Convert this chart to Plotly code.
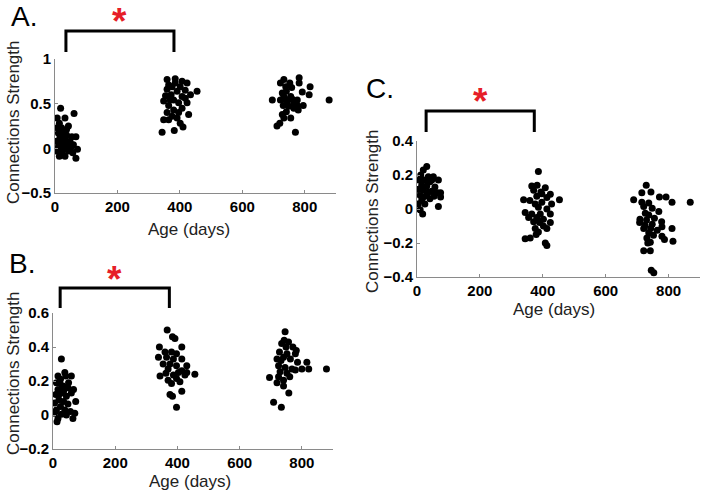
import plotly.graph_objects as go

W, H = 702, 493

# panel A: connection strength vs age
a_age = [18, 61, 7, 32, 14, 43, 21, 27, 11, 37, 54, 67, 16, 32, 5, 48, 21, 37, 59, 11,
         27, 72, 5, 43, 21, 57, 14, 67, 32, 7, 37, 25, 14, 50, 32, 18]
a_val = [0.45, 0.39, 0.34, 0.34, 0.28, 0.25, 0.23, 0.19, 0.17, 0.15, 0.13, 0.13, 0.12, 0.10,
         0.08, 0.08, 0.06, 0.04, 0.04, 0.02, 0.02, -0.01, -0.03, -0.03, -0.05, -0.05, -0.09,
         -0.11, -0.09, 0.23, 0.21, 0.15, 0.05, 0.0, -0.01, -0.015]
a_age += [343, 382, 359, 385, 407, 364, 375, 401, 359, 391, 417, 455, 372, 407, 434, 348,
          380, 396, 423, 364, 407, 380, 359, 396, 428, 375, 348, 364, 401, 410, 391, 417,
          385, 354, 423, 369]
a_val += [0.18, 0.20, 0.77, 0.78, 0.75, 0.71, 0.69, 0.69, 0.66, 0.64, 0.65, 0.64, 0.60, 0.58,
          0.60, 0.53, 0.54, 0.51, 0.51, 0.48, 0.45, 0.43, 0.40, 0.40, 0.38, 0.36, 0.32, 0.32,
          0.28, 0.24, 0.34, 0.56, 0.73, 0.59, 0.73, 0.54]
a_age += [878, 696, 711, 720, 770, 733, 782, 722, 752, 782, 739, 758, 817, 728, 741, 792,
          814, 733, 755, 776, 722, 744, 765, 731, 749, 776, 795, 765, 741, 728, 755, 779,
          733, 738, 760]
a_val += [0.54, 0.54, 0.25, 0.28, 0.18, 0.77, 0.79, 0.73, 0.73, 0.73, 0.69, 0.68, 0.69, 0.62,
          0.64, 0.63, 0.60, 0.58, 0.58, 0.54, 0.54, 0.53, 0.51, 0.48, 0.47, 0.48, 0.48, 0.45,
          0.41, 0.38, 0.34, 0.43, 0.34, 0.55, 0.55]

# panel B
b_age = [27, 16, 38, 24, 11, 41, 59, 32, 16, 48, 66, 27, 9, 43, 59, 19, 34, 73, 5, 48,
         24, 11, 38, 56, 70, 5, 27, 16, 64, 13, 43, 30, 21, 50, 19, 34]
b_val = [0.33, 0.23, 0.25, 0.21, 0.19, 0.23, 0.23, 0.17, 0.15, 0.16, 0.15, 0.13, 0.12, 0.11,
         0.13, 0.09, 0.08, 0.08, 0.07, 0.065, 0.05, 0.03, 0.03, 0.02, 0.01, 0.01, 0.005, -0.02,
         -0.02, -0.04, 0.0, 0.17, 0.19, 0.19, 0.12, 0.14]
b_age += [367, 384, 392, 342, 414, 360, 381, 397, 339, 365, 387, 414, 354, 376, 397, 430,
          370, 414, 344, 387, 424, 456, 397, 370, 408, 381, 414, 376, 384, 397, 363, 403, 430]
b_val += [0.50, 0.46, 0.45, 0.40, 0.40, 0.37, 0.37, 0.36, 0.34, 0.34, 0.33, 0.33, 0.30, 0.30,
          0.29, 0.29, 0.27, 0.26, 0.23, 0.235, 0.235, 0.24, 0.215, 0.205, 0.195, 0.185, 0.14,
          0.12, 0.11, 0.045, 0.245, 0.25, 0.25]
b_age += [879, 696, 709, 734, 758, 746, 743, 735, 757, 749, 771, 782, 728, 752, 779, 720,
          741, 763, 816, 786, 725, 746, 768, 800, 822, 730, 752, 779, 725, 741, 720, 741, 761, 733]
b_val += [0.27, 0.22, 0.075, 0.045, 0.13, 0.49, 0.44, 0.42, 0.43, 0.40, 0.40, 0.38, 0.37, 0.36,
          0.36, 0.33, 0.34, 0.33, 0.31, 0.31, 0.29, 0.28, 0.27, 0.27, 0.27, 0.255, 0.245, 0.265,
          0.225, 0.205, 0.19, 0.17, 0.225, 0.32]

# panel C
c_age = [31, 20, 12, 36, 52, 68, 7, 25, 41, 15, 31, 57, 4, 20, 47, 65, 75, 10, 31, 54,
         75, 41, 15, 4, 25, 68, 10, 18, 47, 36, 20]
c_val = [0.25, 0.23, 0.20, 0.19, 0.19, 0.17, 0.17, 0.17, 0.16, 0.14, 0.135, 0.13, 0.115, 0.11,
         0.105, 0.095, 0.095, 0.08, 0.08, 0.075, 0.07, 0.06, 0.05, 0.03, 0.03, 0.015, -0.005,
         -0.03, 0.17, 0.10, 0.07]
c_age += [386, 339, 453, 365, 382, 408, 371, 397, 424, 381, 413, 359, 397, 376, 428, 386,
          413, 344, 365, 392, 424, 355, 381, 402, 371, 390, 424, 402, 376, 413, 386, 360,
          344, 379, 408, 413, 394]
c_val += [0.22, 0.055, 0.055, 0.135, 0.14, 0.125, 0.11, 0.09, 0.087, 0.075, 0.068, 0.05, 0.04,
          0.03, 0.03, 0.01, 0.0, -0.02, -0.03, -0.03, -0.03, -0.05, -0.05, -0.06, -0.075, -0.08,
          -0.08, -0.10, -0.115, -0.115, -0.135, -0.17, -0.175, -0.15, -0.20, -0.215, 0.10]
c_age += [869, 689, 729, 715, 744, 715, 737, 771, 792, 811, 721, 748, 769, 709, 730, 755,
          778, 708, 725, 748, 779, 721, 743, 764, 811, 737, 752, 779, 731, 787, 742, 734,
          814, 721, 742, 745, 753, 726, 737]
c_val += [0.04, 0.055, 0.14, 0.095, 0.10, 0.04, 0.035, 0.07, 0.07, 0.04, 0.015, 0.005, -0.015,
          -0.06, -0.065, -0.055, -0.075, -0.08, -0.095, -0.09, -0.105, -0.115, -0.115, -0.125,
          -0.115, -0.14, -0.155, -0.16, -0.17, -0.18, -0.195, -0.20, -0.19, -0.245, -0.245,
          -0.36, -0.375, -0.025, -0.035]

# significance brackets (group 1 vs group 2 ages)
bracket_a = [35, 381]
bracket_b = [23, 374]
bracket_c = [29, 373]

x_ticks = [0, 200, 400, 600, 800]
a_ticks = [-0.5, 0, 0.5, 1]
b_ticks = [-0.2, 0, 0.2, 0.4, 0.6]
c_ticks = [-0.4, -0.2, 0, 0.2, 0.4]

FONT = "Liberation Sans, Arial, sans-serif"
GREY = "#8a8a8a"
RED = "rgb(230,30,40)"


def px_x(p):
    return p / W


def px_y(p):
    return 1 - p / H


fig = go.Figure()
for xs, ys, n in [(a_age, a_val, ""), (b_age, b_val, "2"), (c_age, c_val, "3")]:
    fig.add_trace(go.Scatter(x=xs, y=ys, mode="markers", xaxis="x" + n, yaxis="y" + n,
                             marker=dict(size=7, color="black"), showlegend=False))

axis_style = dict(showline=True, linecolor=GREY, linewidth=1, ticks="inside", ticklen=3,
                  tickcolor=GREY, showgrid=False, zeroline=False, automargin=False,
                  tickfont=dict(family=FONT, size=15, color="black", weight="bold"))

fig.update_layout(
    width=W, height=H, margin=dict(l=0, r=0, t=0, b=0, pad=0), autosize=False,
    paper_bgcolor="white", plot_bgcolor="white",
    xaxis=dict(domain=[px_x(55), px_x(336)], range=[0, 900], tickvals=x_ticks, anchor="y", **axis_style),
    yaxis=dict(domain=[px_y(193), px_y(59)], range=[-0.5, 1], tickvals=a_ticks, anchor="x", **axis_style),
    xaxis2=dict(domain=[px_x(53), px_x(333)], range=[0, 900], tickvals=x_ticks, anchor="y2", **axis_style),
    yaxis2=dict(domain=[px_y(449), px_y(313)], range=[-0.2, 0.6], tickvals=b_ticks, anchor="x2", **axis_style),
    xaxis3=dict(domain=[px_x(417), px_x(700)], range=[0, 900], tickvals=x_ticks, anchor="y3", **axis_style),
    yaxis3=dict(domain=[px_y(277), px_y(141)], range=[-0.4, 0.4], tickvals=c_ticks, anchor="x3", **axis_style),
)

# brackets and stars
for br, xr, top, bot, star_y in [(bracket_a, "x", 31, 52, 22), (bracket_b, "x2", 288, 308, 279),
                                 (bracket_c, "x3", 111, 132, 102)]:
    fig.add_shape(type="path", xref=xr, yref="paper",
                  path=f"M {br[0]},{px_y(bot)} L {br[0]},{px_y(top)} L {br[1]},{px_y(top)} L {br[1]},{px_y(bot)}",
                  line=dict(color="black", width=3))
    fig.add_annotation(x=(br[0] + br[1]) / 2, y=px_y(star_y), xref=xr, yref="paper", text="*",
                       xanchor="center", yanchor="middle", showarrow=False,
                       font=dict(family=FONT, size=37, color=RED, weight="bold"))

title_font = dict(family=FONT, size=17, color="#222")
for txt, x, y, ang in [("Connections Strength", 13, 122, -90), ("Age (days)", 189, 229, 0),
                       ("Connections Strength", 13, 373, -90), ("Age (days)", 190, 481, 0),
                       ("Connections Strength", 372, 211, -90), ("Age (days)", 554, 309, 0)]:
    fig.add_annotation(x=px_x(x), y=px_y(y), xref="paper", yref="paper", text=txt, textangle=ang,
                       xanchor="center", yanchor="middle", showarrow=False, font=title_font)

for txt, x, y in [("A.", 9, 17), ("B.", 7, 263), ("C.", 364, 88)]:
    fig.add_annotation(x=px_x(x), y=px_y(y), xref="paper", yref="paper", text=txt,
                       xanchor="left", yanchor="middle", showarrow=False,
                       font=dict(family=FONT, size=28, color="black"))

# drop the browser's default 8px body margin so the figure fills the window
fig.write_html("out.html", config={"displayModeBar": False},
               post_script="document.body.style.margin = '0';")
